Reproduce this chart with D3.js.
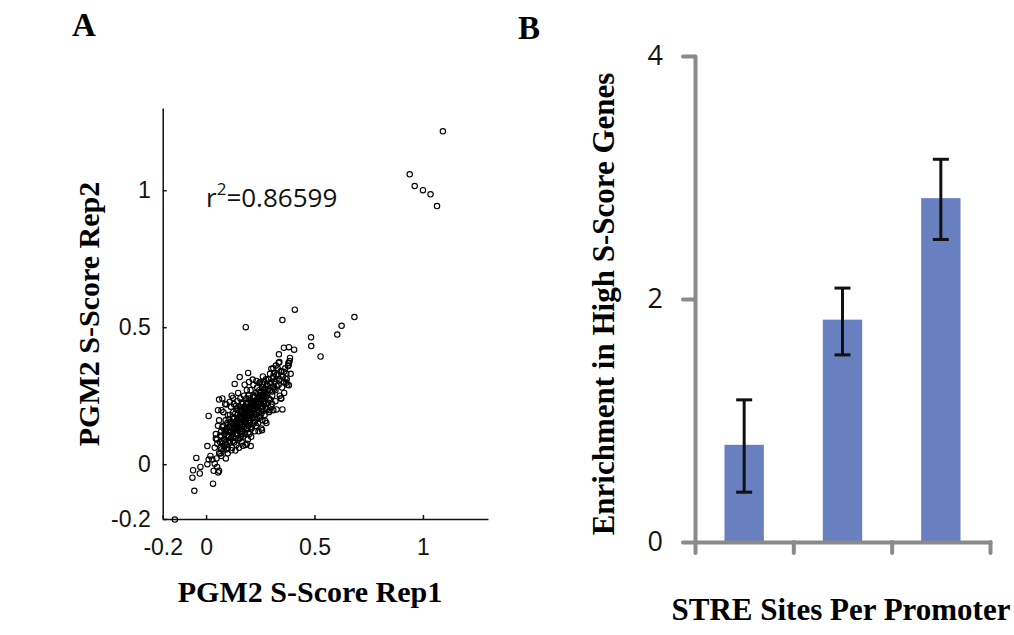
<!DOCTYPE html>
<html>
<head>
<meta charset="utf-8">
<script src="https://cdn.jsdelivr.net/npm/d3@7"></script>
<style>
  body { margin: 0; background: #fff; }
  svg { display: block; }
  .serif-b { font-family: "Liberation Serif", "DejaVu Serif", serif; font-weight: bold; }
</style>
</head>
<body>
<svg id="chart" width="1014" height="635"></svg>
<script>
// ---- panel A data: S-scores, replicate 1 vs replicate 2 ----
const scatterPoints = [
  // outliers top right
  [1.092, 1.215], [0.939, 1.058], [0.962, 1.015], [1.0, 1.0], [1.035, 0.985], [1.065, 0.942],
  // far low-left
  [-0.144, -0.202],
  // upper tail
  [0.183, 0.5], [0.352, 0.526], [0.409, 0.564], [0.684, 0.537], [0.625, 0.505], [0.605, 0.473],
  [0.484, 0.463], [0.485, 0.431], [0.528, 0.393], [0.359, 0.425], [0.382, 0.427], [0.406, 0.418],
  [0.336, 0.401], [0.387, 0.388], [0.385, 0.377], [0.382, 0.368], [0.378, 0.358], [0.338, 0.373],
  [0.301, 0.348], [0.194, 0.333], [0.155, 0.318], [0.132, 0.293], [0.215, 0.309], [0.232, 0.304],
  [0.246, 0.295], [0.258, 0.292], [0.276, 0.310], [0.313, 0.331], [0.324, 0.325], [0.347, 0.337],
  [0.359, 0.337], [0.366, 0.313], [0.370, 0.297], [0.382, 0.288], [0.347, 0.240], [0.352, 0.200],
  [0.293, 0.197], [0.310, 0.197], [0.273, 0.158], [0.258, 0.124],
  // left scatter
  [0.012, 0.176], [0.060, 0.236], [0.055, 0.197], [0.071, 0.197], [0.094, 0.218], [0.109, 0.227],
  [0.137, 0.212], [0.124, 0.242], [0.006, 0.066], [0.117, 0.051], [0.170, 0.067], [0.189, 0.075],
  [0.206, 0.066],
  // low tail
  [-0.045, 0.023], [-0.060, -0.022], [-0.063, -0.049], [-0.026, -0.010], [-0.029, -0.034],
  [-0.054, -0.097], [0.032, -0.071], [0.006, 0.000], [0.012, 0.017], [0.029, 0.017], [0.040, 0.002],
  [0.051, -0.010], [0.060, -0.024], [0.035, -0.024], [0.048, 0.021], [0.066, 0.039], [0.091, 0.021],
  [0.075, 0.075], [0.052, 0.075], [0.045, 0.094], [0.071, 0.054], [0.020, 0.030], [0.056, -0.030],
  // dense core
  [0.04, 0.06], [0.05, 0.09], [0.045, 0.11], [0.06, 0.04], [0.065, 0.08], [0.07, 0.12], [0.055, 0.14],
  [0.07, 0.03], [0.06, 0.16], [0.07, 0.10], [0.068, 0.06],
  [0.08, 0.05], [0.085, 0.09], [0.09, 0.12], [0.08, 0.14], [0.095, 0.07], [0.10, 0.10], [0.09, 0.16],
  [0.10, 0.04], [0.085, 0.11], [0.095, 0.13], [0.10, 0.18], [0.08, 0.19], [0.09, 0.08], [0.10, 0.06],
  [0.088, 0.22], [0.075, 0.24], [0.098, 0.15],
  [0.11, 0.08], [0.115, 0.12], [0.12, 0.15], [0.11, 0.18], [0.125, 0.10], [0.13, 0.13], [0.12, 0.06],
  [0.13, 0.17], [0.115, 0.21], [0.125, 0.19], [0.11, 0.14], [0.13, 0.08], [0.12, 0.11], [0.128, 0.22],
  [0.105, 0.10], [0.135, 0.05], [0.118, 0.25],
  [0.14, 0.11], [0.145, 0.14], [0.15, 0.17], [0.14, 0.20], [0.155, 0.12], [0.16, 0.15], [0.15, 0.09],
  [0.16, 0.19], [0.145, 0.23], [0.155, 0.21], [0.14, 0.07], [0.16, 0.10], [0.15, 0.13], [0.142, 0.16],
  [0.158, 0.24], [0.148, 0.26], [0.162, 0.13], [0.152, 0.06], [0.165, 0.08],
  [0.17, 0.14], [0.175, 0.17], [0.18, 0.20], [0.17, 0.22], [0.185, 0.15], [0.19, 0.18], [0.18, 0.11],
  [0.19, 0.22], [0.175, 0.25], [0.185, 0.24], [0.17, 0.10], [0.19, 0.13], [0.18, 0.16], [0.172, 0.19],
  [0.188, 0.27], [0.178, 0.29], [0.195, 0.16], [0.182, 0.07], [0.193, 0.09], [0.168, 0.12],
  [0.20, 0.15], [0.205, 0.19], [0.21, 0.22], [0.20, 0.24], [0.215, 0.17], [0.22, 0.20], [0.21, 0.13],
  [0.22, 0.25], [0.205, 0.27], [0.215, 0.23], [0.20, 0.11], [0.22, 0.15], [0.21, 0.18], [0.202, 0.21],
  [0.218, 0.29], [0.208, 0.10], [0.225, 0.12], [0.198, 0.30],
  [0.23, 0.18], [0.235, 0.21], [0.24, 0.24], [0.23, 0.26], [0.245, 0.19], [0.25, 0.22], [0.24, 0.15],
  [0.25, 0.26], [0.235, 0.28], [0.245, 0.25], [0.23, 0.14], [0.25, 0.17], [0.24, 0.20], [0.232, 0.23],
  [0.248, 0.30], [0.255, 0.13], [0.242, 0.12],
  [0.26, 0.21], [0.265, 0.24], [0.27, 0.27], [0.26, 0.28], [0.275, 0.22], [0.28, 0.25], [0.27, 0.18],
  [0.28, 0.29], [0.265, 0.30], [0.275, 0.26], [0.26, 0.16], [0.28, 0.20], [0.27, 0.23], [0.285, 0.31],
  [0.262, 0.32], [0.278, 0.15],
  [0.29, 0.24], [0.295, 0.27], [0.30, 0.30], [0.29, 0.31], [0.305, 0.25], [0.31, 0.28], [0.30, 0.21],
  [0.31, 0.32], [0.295, 0.33], [0.305, 0.22], [0.29, 0.19], [0.31, 0.35], [0.315, 0.30],
  [0.32, 0.27], [0.325, 0.31], [0.33, 0.33], [0.32, 0.23], [0.335, 0.29], [0.34, 0.25], [0.33, 0.35],
  [0.34, 0.31], [0.325, 0.20], [0.335, 0.37], [0.345, 0.34], [0.322, 0.36],
  [0.35, 0.28], [0.355, 0.32], [0.36, 0.30], [0.365, 0.35], [0.37, 0.33], [0.375, 0.29], [0.38, 0.37],
  [0.38, 0.36], [0.372, 0.31], [0.36, 0.26], [0.345, 0.24], [0.39, 0.33],
  [0.13, 0.15], [0.14, 0.13], [0.15, 0.15], [0.16, 0.17], [0.17, 0.16], [0.18, 0.18], [0.19, 0.20],
  [0.20, 0.17], [0.21, 0.20], [0.22, 0.18], [0.23, 0.22], [0.24, 0.22], [0.25, 0.24], [0.26, 0.25],
  [0.12, 0.13], [0.135, 0.11], [0.165, 0.11], [0.185, 0.13], [0.195, 0.14], [0.205, 0.16], [0.225, 0.17],
  [0.235, 0.19], [0.255, 0.20], [0.265, 0.22], [0.285, 0.27], [0.11, 0.12], [0.10, 0.12], [0.145, 0.18],
  [0.175, 0.21], [0.195, 0.25], [0.225, 0.23], [0.245, 0.27], [0.265, 0.27], [0.155, 0.15], [0.165, 0.20],
  // extra core density
  [0.105, 0.085], [0.115, 0.095], [0.125, 0.085], [0.135, 0.095], [0.145, 0.105], [0.155, 0.095],
  [0.125, 0.125], [0.135, 0.135], [0.145, 0.125], [0.155, 0.135], [0.165, 0.145], [0.175, 0.135],
  [0.135, 0.155], [0.145, 0.165], [0.155, 0.175], [0.165, 0.165], [0.175, 0.155], [0.185, 0.165],
  [0.155, 0.195], [0.165, 0.185], [0.175, 0.175], [0.185, 0.185], [0.195, 0.175], [0.205, 0.185],
  [0.175, 0.205], [0.185, 0.205], [0.195, 0.195], [0.205, 0.205], [0.215, 0.195], [0.225, 0.205],
  [0.195, 0.225], [0.205, 0.225], [0.215, 0.215], [0.225, 0.225], [0.235, 0.215], [0.245, 0.225],
  [0.215, 0.245], [0.225, 0.245], [0.235, 0.235], [0.245, 0.245], [0.255, 0.235], [0.265, 0.255],
  [0.235, 0.255], [0.255, 0.265], [0.275, 0.275], [0.285, 0.285], [0.295, 0.295], [0.275, 0.245],
  [0.095, 0.105], [0.085, 0.125], [0.105, 0.135], [0.115, 0.155], [0.125, 0.165], [0.135, 0.185],
  [0.145, 0.205], [0.165, 0.225], [0.185, 0.225], [0.195, 0.115], [0.205, 0.135], [0.215, 0.145],
  [0.225, 0.155], [0.235, 0.165], [0.245, 0.175], [0.255, 0.185], [0.265, 0.195], [0.275, 0.205],
  [0.285, 0.225], [0.295, 0.235], [0.305, 0.265], [0.315, 0.275], [0.325, 0.285], [0.335, 0.305],
  [0.075, 0.085], [0.085, 0.065], [0.095, 0.055], [0.065, 0.105], [0.075, 0.135], [0.105, 0.165]
];
const r2Text = "=0.86599";
const scatterTicks = [-0.2, 0, 0.5, 1];

// ---- panel B data: enrichment by number of STRE sites ----
const categories = ["1", "2", "3"];
const enrichment = [0.80, 1.83, 2.83];
const errLow = [0.41, 1.54, 2.49];
const errHigh = [1.17, 2.09, 3.15];
const barTicks = [0, 2, 4];

const svg = d3.select("#chart");
const tickFont = "'Liberation Sans', sans-serif";

// ================= Panel A =================
const xA = d3.scaleLinear().domain([-0.2, 1.3]).range([162.7, 488]);
const yA = d3.scaleLinear().domain([-0.2, 1.3]).range([519, 108]);

const gA = svg.append("g");

const xAxisA = d3.axisBottom(xA).tickValues(scatterTicks).tickFormat(d => String(d)).tickSizeInner(-4).tickSizeOuter(0).tickPadding(20);
const yAxisA = d3.axisLeft(yA).tickValues(scatterTicks).tickFormat(d => String(d)).tickSizeInner(-4).tickSizeOuter(0).tickPadding(12);

gA.append("g").attr("transform", `translate(0,${yA(-0.2)})`).call(xAxisA);
gA.append("g").attr("transform", `translate(${xA(-0.2)},0)`).call(yAxisA);

gA.selectAll(".domain, .tick line").attr("stroke", "#111").attr("stroke-width", 1.5);
gA.selectAll(".tick text").attr("font-family", tickFont).attr("font-size", 23).attr("fill", "#111");

gA.append("g").selectAll("circle")
  .data(scatterPoints)
  .enter()
  .append("circle")
  .attr("cx", d => xA(d[0]))
  .attr("cy", d => yA(d[1]))
  .attr("r", 2.7)
  .attr("fill", "none")
  .attr("stroke", "#000")
  .attr("stroke-width", 1.1);

const r2 = gA.append("text")
  .attr("x", 206).attr("y", 207)
  .attr("font-family", "'Open Sans', sans-serif")
  .attr("font-size", 26).attr("fill", "#111");
r2.append("tspan").text("r");
r2.append("tspan").attr("font-size", 17).attr("dy", -12).text("2");
r2.append("tspan").attr("dy", 12).text(r2Text);

gA.append("text").attr("class", "serif-b")
  .attr("x", 310).attr("y", 602).attr("text-anchor", "middle")
  .attr("font-size", 30).text("PGM2 S-Score Rep1");

gA.append("text").attr("class", "serif-b")
  .attr("transform", "translate(99,314) rotate(-90)").attr("text-anchor", "middle")
  .attr("font-size", 30).text("PGM2 S-Score Rep2");

svg.append("text").attr("class", "serif-b")
  .attr("x", 72).attr("y", 36).attr("font-size", 33).text("A");

// ================= Panel B =================
const gB = svg.append("g");
const yB = d3.scaleLinear().domain([0, 4]).range([542, 56]);
const xB = d3.scaleBand().domain(categories).range([695, 990]).paddingInner(0.6).paddingOuter(0.3);
const xEdge = d3.scaleLinear().domain([0, categories.length]).range([695, 990]);

gB.selectAll("rect.bar")
  .data(enrichment)
  .enter()
  .append("rect")
  .attr("class", "bar")
  .attr("x", (d, i) => xB(categories[i]))
  .attr("y", d => yB(d))
  .attr("width", xB.bandwidth())
  .attr("height", d => yB(0) - yB(d))
  .attr("fill", "#687fc0");

const axisColor = "#8a8a8a";
const xAxisB = d3.axisBottom(xEdge).tickValues(d3.range(categories.length + 1)).tickFormat("").tickSizeInner(11).tickSizeOuter(0);
const yAxisB = d3.axisLeft(yB).tickValues(barTicks).tickFormat(d3.format("d")).tickSizeInner(12).tickSizeOuter(0).tickPadding(20);

const gxB = gB.append("g").attr("transform", `translate(0,${yB(0)})`).call(xAxisB);
const gyB = gB.append("g").attr("transform", `translate(${xEdge(0)},0)`).call(yAxisB);
gB.selectAll(".domain, .tick line")
  .attr("stroke", axisColor).attr("stroke-width", 4).attr("stroke-linecap", "round");
gyB.selectAll(".tick text").attr("font-family", "'Open Sans', sans-serif").attr("font-size", 27).attr("fill", "#111");

// error bars
const errG = gB.append("g").attr("stroke", "#111").attr("stroke-width", 3);
categories.forEach((c, i) => {
  const cx = xB(c) + xB.bandwidth() / 2;
  errG.append("line").attr("x1", cx).attr("x2", cx).attr("y1", yB(errLow[i])).attr("y2", yB(errHigh[i]));
  errG.append("line").attr("x1", cx - 8).attr("x2", cx + 8).attr("y1", yB(errLow[i])).attr("y2", yB(errLow[i]));
  errG.append("line").attr("x1", cx - 8).attr("x2", cx + 8).attr("y1", yB(errHigh[i])).attr("y2", yB(errHigh[i]));
});

gB.append("text").attr("class", "serif-b")
  .attr("x", 841).attr("y", 620).attr("text-anchor", "middle")
  .attr("font-size", 31).text("STRE Sites Per Promoter");

gB.append("text").attr("class", "serif-b")
  .attr("transform", "translate(614,304) rotate(-90)").attr("text-anchor", "middle")
  .attr("font-size", 31).text("Enrichment in High S-Score Genes");

svg.append("text").attr("class", "serif-b")
  .attr("x", 518).attr("y", 39).attr("font-size", 33).text("B");
</script>
</body>
</html>
